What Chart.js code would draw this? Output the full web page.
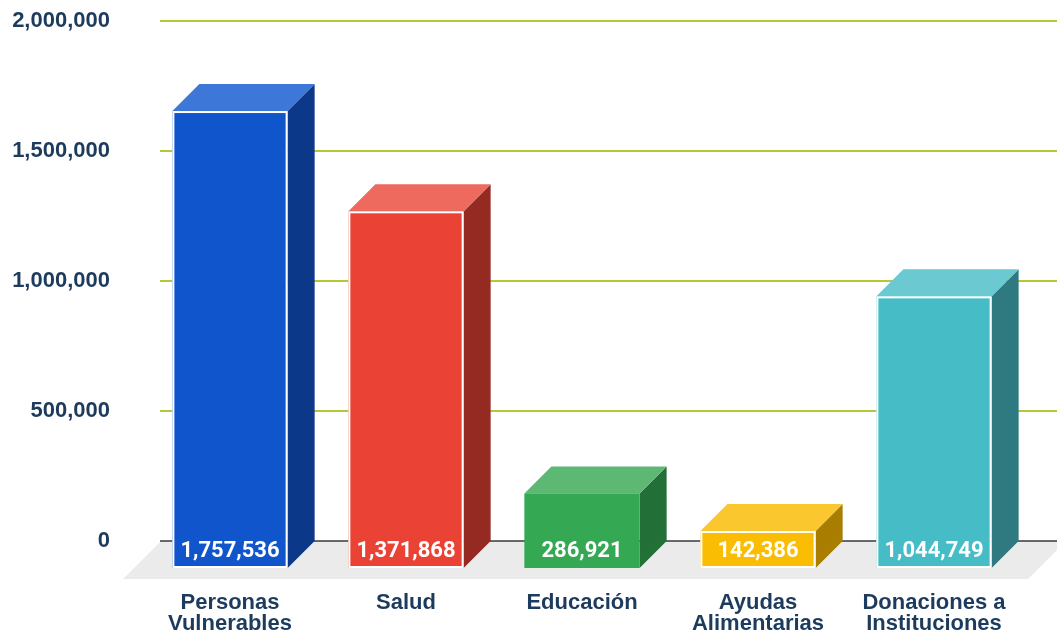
<!DOCTYPE html>
<html>
<head>
<meta charset="utf-8">
<script src="https://cdn.jsdelivr.net/npm/chart.js@4/dist/chart.umd.min.js"></script>
<style>
  html, body { margin: 0; padding: 0; background: #ffffff; }
  #wrap { width: 1057px; height: 634px; position: relative; }
</style>
</head>
<body>
<div id="wrap"><canvas id="c" width="1057" height="634"></canvas></div>
<script>
// ---- data ----
const categories = [
  ['Personas', 'Vulnerables'],
  ['Salud'],
  ['Educación'],
  ['Ayudas', 'Alimentarias'],
  ['Donaciones a', 'Instituciones']
];
const values = [1757536, 1371868, 286921, 142386, 1044749];
const yTicks = [0, 500000, 1000000, 1500000, 2000000];

// ---- styles ----
const frontColors = ['#1155cc', '#ea4335', '#34a853', '#fbbc04', '#46bdc6'];
const topColors   = ['#3d78d8', '#ee6a5f', '#5db874', '#fbc72f', '#6bcad1'];
const sideColors  = ['#0c388a', '#952a22', '#226f37', '#a87d00', '#2e7a80'];
const borderWidths = [2, 2, 0, 2, 2];
const DEPTH = 27;
const labelColor = '#1d3b5c';

const fmt = v => Number(v).toLocaleString('en-US');

const bar3d = {
  id: 'bar3d',
  beforeDatasetsDraw(chart) {
    const ctx = chart.ctx;
    const ys = chart.scales.y;
    const area = chart.chartArea;
    const W = chart.width;
    const zero = ys.getPixelForValue(0);
    ctx.save();
    // floor
    const fd = 38;
    ctx.fillStyle = '#ebebeb';
    ctx.beginPath();
    ctx.moveTo(area.left + 19, zero);
    ctx.lineTo(W + 9, zero);
    ctx.lineTo(W + 9 - fd, zero + fd);
    ctx.lineTo(area.left + 19 - fd, zero + fd);
    ctx.closePath();
    ctx.fill();
    // grid lines
    yTicks.forEach(v => {
      const py = Math.round(ys.getPixelForValue(v));
      ctx.beginPath();
      if (v === 0) {
        ctx.strokeStyle = '#3a3a3a';
        ctx.lineWidth = 1.5;
      } else {
        ctx.strokeStyle = '#b2c936';
        ctx.lineWidth = 2;
      }
      ctx.moveTo(area.left + 18, py);
      ctx.lineTo(W, py);
      ctx.stroke();
    });
    ctx.restore();
  },
  afterDatasetsDraw(chart) {
    const ctx = chart.ctx;
    const meta = chart.getDatasetMeta(0);
    const d = DEPTH;
    ctx.save();
    meta.data.forEach((el, i) => {
      const p = el.getProps(['x', 'y', 'base', 'width'], true);
      const L = p.x - p.width / 2, R = p.x + p.width / 2;
      const T = p.y + d, B = p.base + d;
      // side face
      ctx.fillStyle = sideColors[i];
      ctx.beginPath();
      ctx.moveTo(R, T); ctx.lineTo(R + d, T - d); ctx.lineTo(R + d, B - d); ctx.lineTo(R, B);
      ctx.closePath(); ctx.fill();
      // top face
      ctx.fillStyle = topColors[i];
      ctx.beginPath();
      ctx.moveTo(L, T); ctx.lineTo(R, T); ctx.lineTo(R + d, T - d); ctx.lineTo(L + d, T - d);
      ctx.closePath(); ctx.fill();
      // front face
      ctx.fillStyle = frontColors[i];
      ctx.fillRect(L, T, R - L, B - T);
      if (borderWidths[i] > 0) {
        ctx.strokeStyle = '#ffffff';
        ctx.lineWidth = borderWidths[i];
        ctx.strokeRect(L + 1, T + 1, R - L - 2, B - T - 2);
      }
      // value label
      ctx.fillStyle = '#ffffff';
      ctx.font = 'bold 22px Roboto, "Liberation Sans", sans-serif';
      ctx.textAlign = 'center';
      ctx.textBaseline = 'middle';
      ctx.fillText(fmt(values[i]), p.x, B - 17);
    });
    ctx.restore();
  }
};

new Chart(document.getElementById('c'), {
  type: 'bar',
  data: {
    labels: categories,
    datasets: [{
      data: values,
      backgroundColor: 'rgba(0,0,0,0)',
      borderWidth: 0,
      barPercentage: 0.655,
      categoryPercentage: 1.0
    }]
  },
  options: {
    responsive: false,
    devicePixelRatio: 1,
    animation: false,
    layout: { padding: { top: 21, right: 35, left: 0, bottom: 0 } },
    plugins: {
      legend: { display: false },
      tooltip: { enabled: false },
      title: { display: false }
    },
    scales: {
      x: {
        grid: { display: false, drawTicks: false },
        border: { display: false },
        ticks: {
          autoSkip: false,
          maxRotation: 0,
          minRotation: 0,
          padding: 51,
          color: labelColor,
          font: { family: '"Liberation Sans", Arial, sans-serif', size: 22, weight: 'bold', lineHeight: 0.96 }
        },
        afterFit(scale) { scale.height = 93; scale.paddingLeft = 0; scale.paddingRight = 0; }
      },
      y: {
        min: 0,
        max: 2000000,
        grid: { display: false, drawTicks: false },
        border: { display: false },
        afterBuildTicks(scale) { scale.ticks = yTicks.map(v => ({ value: v })); },
        afterFit(scale) { scale.width = 142; scale.paddingTop = 0; scale.paddingBottom = 0; },
        ticks: {
          padding: 32,
          color: labelColor,
          font: { family: '"Liberation Sans", Arial, sans-serif', size: 22, weight: 'bold' },
          callback: v => fmt(v)
        }
      }
    }
  },
  plugins: [bar3d]
});
</script>
</body>
</html>
